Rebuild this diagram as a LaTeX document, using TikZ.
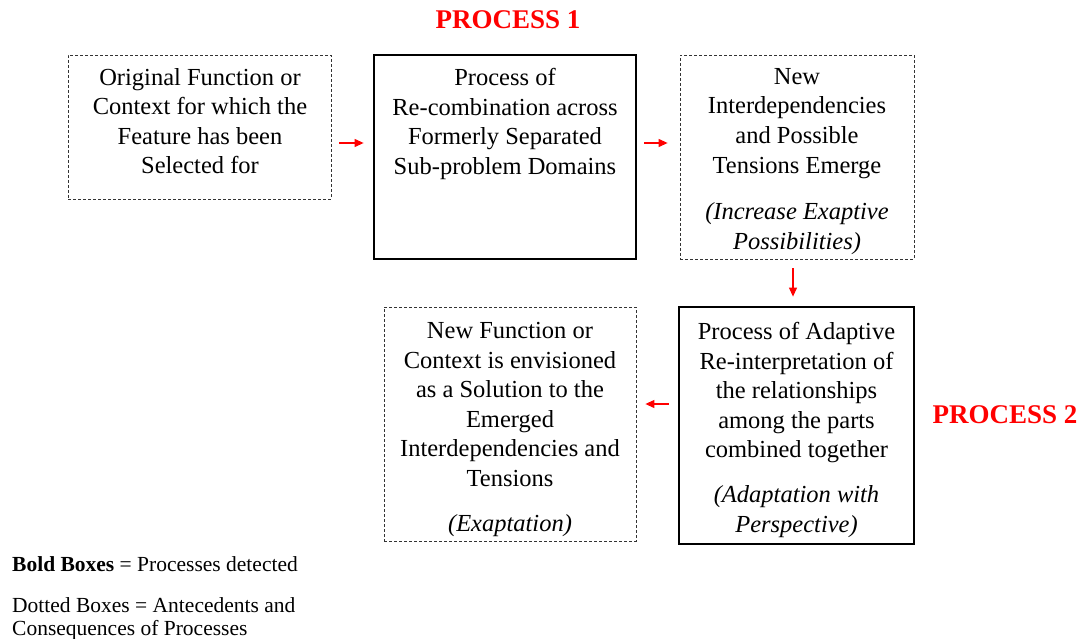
\documentclass[tikz,border=0pt]{standalone}
\usepackage{fontspec}
\setmainfont{Liberation Serif}
\usetikzlibrary{arrows.meta}
\begin{document}
\begin{tikzpicture}[x=1pt,y=1pt,
  dotbox/.style={draw=black!80, line width=0.8pt, dash pattern=on 3pt off 2pt, inner sep=0pt},
  boldbox/.style={draw=black, line width=2.8pt, inner sep=0pt},
  txt/.style={align=center, inner sep=0pt, anchor=north, font=\fontsize{24.5}{29.6}\selectfont},
  itxt/.style={txt, font=\fontsize{24.5}{29.6}\selectfont\itshape},
  arr/.style={draw=red, line width=1.1pt, -{Triangle[length=9pt,width=8pt]}},
  title/.style={text=red, font=\fontsize{27}{30}\selectfont\bfseries, inner sep=0pt},
  legend/.style={align=left, inner sep=0pt, anchor=north west, font=\fontsize{21.5}{23}\selectfont}]
\useasboundingbox (0,0) rectangle (1081,-639);

% boxes
\node[dotbox, minimum width=263pt, minimum height=144pt] (a) at (199.5,-127) {};
\node[boldbox, minimum width=262pt, minimum height=204pt] (b) at (505,-157) {};
\node[dotbox, minimum width=234pt, minimum height=204pt] (c) at (797,-157) {};
\node[boldbox, minimum width=235pt, minimum height=237pt] (d) at (796.5,-425.5) {};
\node[dotbox, minimum width=252pt, minimum height=234pt] (e) at (510,-424) {};

% box texts
\node[txt] (ta) at (200,-68) {Original Function or\\Context for which the\\Feature has been\\Selected for};
\node[txt] (tb) at (505,-68) {Process of\\Re-combination across\\Formerly Separated\\Sub-problem Domains};
\node[txt] (tc) at (797,-68) {New\\Interdependencies\\and Possible\\Tensions Emerge};
\node[itxt] (tc2) at (797,-202.5) {(Increase Exaptive\\Possibilities)};
\node[txt] (td) at (796.5,-322) {Process of Adaptive\\Re-interpretation of\\the relationships\\among the parts\\combined together};
\node[itxt] (td2) at (796.5,-485.5) {(Adaptation with\\Perspective)};
\node[txt] (te) at (510,-322) {New Function or\\Context is envisioned\\as a Solution to the\\Emerged\\Interdependencies and\\Tensions};
\node[itxt] (te2) at (510,-514.5) {(Exaptation)};

% titles
\node[title] (p1) at (508,-20) {PROCESS 1};
\node[title] (p2) at (1005,-415) {PROCESS 2};

% connectors
\coordinate (r1) at (0,-143);
\coordinate (r2) at (0,-404);
\draw[arr, shorten <=8pt, shorten >=9pt] (a.east |- r1) -- (b.west |- r1);
\draw[arr, shorten <=7pt, shorten >=12pt] (b.east |- r1) -- (c.west |- r1);
\draw[arr, shorten <=9pt, shorten >=9pt] (c.south -| 793,0) -- (d.north -| 793,0);
\draw[arr, shorten <=9pt, shorten >=9pt] (d.west |- r2) -- (e.east |- r2);

% legend
\node[legend] (l1) at (12,-556) {\textbf{Bold Boxes} = Processes detected};
\node[legend] (l2) at (12,-597) {Dotted Boxes = Antecedents and\\Consequences of Processes};
\end{tikzpicture}
\end{document}
